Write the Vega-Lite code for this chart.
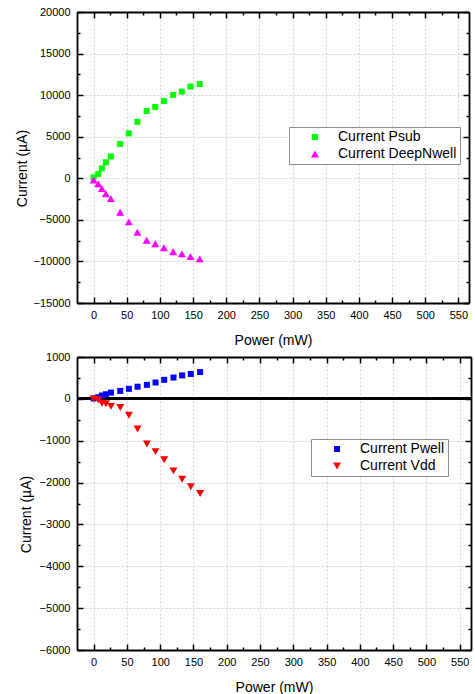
{
  "$schema": "https://vega.github.io/schema/vega-lite/v6.json",
  "padding": {"left": 15, "top": 6, "right": 1, "bottom": 0},
  "background": "white",
  "config": {
    "view": {"stroke": null},
    "font": "Liberation Sans",
    "axis": {
      "labelFont": "Liberation Sans", "titleFont": "Liberation Sans",
      "labelColor": "#000", "titleColor": "#000", "titleFontWeight": "normal",
      "labelFontSize": 11, "titleFontSize": 14,
      "domainColor": "#000", "domainWidth": 1.8,
      "tickColor": "#000", "tickWidth": 1.5,
      "gridColor": "#c8c8c8", "gridDash": [2, 2], "gridWidth": 0.8,
      "labelFlush": false, "labelOverlap": false, "format": "d"
    },
    "legend": {
      "labelFont": "Liberation Sans", "labelFontSize": 14, "labelColor": "#000",
      "symbolSize": 36, "strokeColor": "#8c8c8c", "fillColor": "#ffffff",
      "padding": 3, "rowPadding": 3, "symbolOffset": 16, "labelOffset": 16,
      "symbolStrokeWidth": 0, "title": null
    }
  },
  "datasets": {
    "top": [
      {"power": 0, "current": 100, "series": "Current Psub"},
      {"power": 7, "current": 520, "series": "Current Psub"},
      {"power": 12.5, "current": 1200, "series": "Current Psub"},
      {"power": 18.5, "current": 1930, "series": "Current Psub"},
      {"power": 26, "current": 2620, "series": "Current Psub"},
      {"power": 40, "current": 4120, "series": "Current Psub"},
      {"power": 53, "current": 5400, "series": "Current Psub"},
      {"power": 66, "current": 6780, "series": "Current Psub"},
      {"power": 80, "current": 8080, "series": "Current Psub"},
      {"power": 93, "current": 8580, "series": "Current Psub"},
      {"power": 106, "current": 9280, "series": "Current Psub"},
      {"power": 120, "current": 10030, "series": "Current Psub"},
      {"power": 133, "current": 10420, "series": "Current Psub"},
      {"power": 146, "current": 11030, "series": "Current Psub"},
      {"power": 160, "current": 11330, "series": "Current Psub"},
      {"power": 0, "current": -220, "series": "Current DeepNwell"},
      {"power": 7, "current": -650, "series": "Current DeepNwell"},
      {"power": 12.5, "current": -1230, "series": "Current DeepNwell"},
      {"power": 18.5, "current": -1860, "series": "Current DeepNwell"},
      {"power": 26, "current": -2450, "series": "Current DeepNwell"},
      {"power": 40, "current": -4090, "series": "Current DeepNwell"},
      {"power": 53, "current": -5240, "series": "Current DeepNwell"},
      {"power": 66, "current": -6500, "series": "Current DeepNwell"},
      {"power": 80, "current": -7450, "series": "Current DeepNwell"},
      {"power": 93, "current": -7870, "series": "Current DeepNwell"},
      {"power": 106, "current": -8350, "series": "Current DeepNwell"},
      {"power": 120, "current": -8830, "series": "Current DeepNwell"},
      {"power": 133, "current": -9090, "series": "Current DeepNwell"},
      {"power": 146, "current": -9400, "series": "Current DeepNwell"},
      {"power": 160, "current": -9690, "series": "Current DeepNwell"}
    ],
    "bottom": [
      {"power": 0, "current": 10, "series": "Current Pwell"},
      {"power": 7, "current": 40, "series": "Current Pwell"},
      {"power": 12.5, "current": 80, "series": "Current Pwell"},
      {"power": 18.5, "current": 110, "series": "Current Pwell"},
      {"power": 26, "current": 150, "series": "Current Pwell"},
      {"power": 40, "current": 190, "series": "Current Pwell"},
      {"power": 53, "current": 240, "series": "Current Pwell"},
      {"power": 66, "current": 290, "series": "Current Pwell"},
      {"power": 80, "current": 335, "series": "Current Pwell"},
      {"power": 93, "current": 390, "series": "Current Pwell"},
      {"power": 106, "current": 455, "series": "Current Pwell"},
      {"power": 120, "current": 510, "series": "Current Pwell"},
      {"power": 133, "current": 560, "series": "Current Pwell"},
      {"power": 146, "current": 595, "series": "Current Pwell"},
      {"power": 160, "current": 640, "series": "Current Pwell"},
      {"power": 0, "current": 0, "series": "Current Vdd"},
      {"power": 7, "current": -20, "series": "Current Vdd"},
      {"power": 12.5, "current": -105, "series": "Current Vdd"},
      {"power": 18.5, "current": -115, "series": "Current Vdd"},
      {"power": 26, "current": -180, "series": "Current Vdd"},
      {"power": 40, "current": -205, "series": "Current Vdd"},
      {"power": 53, "current": -390, "series": "Current Vdd"},
      {"power": 66, "current": -720, "series": "Current Vdd"},
      {"power": 80, "current": -1080, "series": "Current Vdd"},
      {"power": 93, "current": -1260, "series": "Current Vdd"},
      {"power": 106, "current": -1455, "series": "Current Vdd"},
      {"power": 120, "current": -1720, "series": "Current Vdd"},
      {"power": 133, "current": -1920, "series": "Current Vdd"},
      {"power": 146, "current": -2100, "series": "Current Vdd"},
      {"power": 160, "current": -2260, "series": "Current Vdd"}
    ]
  },
  "bounds": "flush",
  "spacing": 54,
  "resolve": {"scale": {"color": "independent", "shape": "independent", "size": "independent"}},
  "vconcat": [
    {
      "width": 392, "height": 291,
      "data": {"name": "top"},
      "resolve": {"axis": {"x": "independent", "y": "independent"}},
      "layer": [
        {
          "mark": {"type": "point", "filled": true, "opacity": 1, "strokeWidth": 0},
          "encoding": {
            "x": {"field": "power", "type": "quantitative",
              "scale": {"domain": [-25, 566], "nice": false, "zero": false},
              "axis": {"orient": "bottom", "title": "Power (mW)", "values": [0, 50, 100, 150, 200, 250, 300, 350, 400, 450, 500, 550],
                "tickSize": -6, "labelPadding": 12, "titlePadding": 13, "grid": true}},
            "y": {"field": "current", "type": "quantitative",
              "scale": {"domain": [-15000, 20000], "nice": false, "zero": false},
              "axis": {"orient": "left", "title": "Current (µA)", "values": [-15000, -10000, -5000, 0, 5000, 10000, 15000, 20000],
                "tickSize": -6, "labelPadding": 13, "titlePadding": 3, "grid": true, "titleY": 156}},
            "color": {"field": "series", "type": "nominal",
              "scale": {"domain": ["Current Psub", "Current DeepNwell"], "range": ["#00ff00", "#ff00ff"]},
              "legend": {"orient": "none", "legendX": 212, "legendY": 115}},
            "shape": {"field": "series", "type": "nominal",
              "scale": {"domain": ["Current Psub", "Current DeepNwell"], "range": ["square", "triangle-up"]},
              "legend": {"orient": "none", "legendX": 212, "legendY": 115}},
            "size": {"field": "series", "type": "nominal",
              "scale": {"domain": ["Current Psub", "Current DeepNwell"], "range": [36, 64]}, "legend": null}
          }
        },
        {
          "mark": {"type": "point", "opacity": 0},
          "encoding": {
            "x": {"field": "power", "type": "quantitative",
              "scale": {"domain": [-25, 566], "nice": false, "zero": false},
              "axis": {"orient": "bottom", "title": null, "values": [25, 75, 125, 175, 225, 275, 325, 375, 425, 475, 525],
                "tickSize": -3, "labels": false, "domain": false, "grid": false}},
            "y": {"field": "current", "type": "quantitative",
              "scale": {"domain": [-15000, 20000], "nice": false, "zero": false},
              "axis": {"orient": "left", "title": null, "values": [-12500, -7500, -2500, 2500, 7500, 12500, 17500],
                "tickSize": -3, "labels": false, "domain": false, "grid": false}}
          }
        },
        {
          "mark": {"type": "point", "opacity": 0},
          "encoding": {
            "x": {"field": "power", "type": "quantitative",
              "scale": {"domain": [-25, 566], "nice": false, "zero": false},
              "axis": {"orient": "top", "title": null, "values": [0, 50, 100, 150, 200, 250, 300, 350, 400, 450, 500, 550],
                "tickSize": -6, "labels": false, "grid": false}},
            "y": {"field": "current", "type": "quantitative",
              "scale": {"domain": [-15000, 20000], "nice": false, "zero": false},
              "axis": {"orient": "right", "title": null, "values": [-15000, -10000, -5000, 0, 5000, 10000, 15000, 20000],
                "tickSize": -6, "labels": false, "grid": false}}
          }
        },
        {
          "mark": {"type": "point", "opacity": 0},
          "encoding": {
            "x": {"field": "power", "type": "quantitative",
              "scale": {"domain": [-25, 566], "nice": false, "zero": false},
              "axis": {"orient": "top", "title": null, "values": [25, 75, 125, 175, 225, 275, 325, 375, 425, 475, 525],
                "tickSize": -3, "labels": false, "domain": false, "grid": false}},
            "y": {"field": "current", "type": "quantitative",
              "scale": {"domain": [-15000, 20000], "nice": false, "zero": false},
              "axis": {"orient": "right", "title": null, "values": [-12500, -7500, -2500, 2500, 7500, 12500, 17500],
                "tickSize": -3, "labels": false, "domain": false, "grid": false}}
          }
        }
      ]
    },
    {
      "width": 394, "height": 293,
      "data": {"name": "bottom"},
      "resolve": {"axis": {"x": "independent", "y": "independent"}},
      "layer": [
        {
          "mark": {"type": "rule", "color": "#000", "strokeWidth": 2},
          "encoding": {"y": {"datum": 0, "type": "quantitative", "scale": {"domain": [-6000, 1000], "nice": false, "zero": false}, "axis": null}}
        },
        {
          "mark": {"type": "point", "filled": true, "opacity": 1, "strokeWidth": 0},
          "encoding": {
            "x": {"field": "power", "type": "quantitative",
              "scale": {"domain": [-25, 567], "nice": false, "zero": false},
              "axis": {"orient": "bottom", "title": "Power (mW)", "values": [0, 50, 100, 150, 200, 250, 300, 350, 400, 450, 500, 550],
                "tickSize": -6, "labelPadding": 12, "titlePadding": 13, "grid": true}},
            "y": {"field": "current", "type": "quantitative",
              "scale": {"domain": [-6000, 1000], "nice": false, "zero": false},
              "axis": {"orient": "left", "title": "Current (µA)", "values": [-6000, -5000, -4000, -3000, -2000, -1000, 0, 1000],
                "tickSize": -6, "labelPadding": 13, "titlePadding": 6, "grid": true, "titleY": 157}},
            "color": {"field": "series", "type": "nominal",
              "scale": {"domain": ["Current Pwell", "Current Vdd"], "range": ["#0000ff", "#ff0000"]},
              "legend": {"orient": "none", "legendX": 234, "legendY": 82}},
            "shape": {"field": "series", "type": "nominal",
              "scale": {"domain": ["Current Pwell", "Current Vdd"], "range": ["square", "triangle-down"]},
              "legend": {"orient": "none", "legendX": 234, "legendY": 82}},
            "size": {"field": "series", "type": "nominal",
              "scale": {"domain": ["Current Pwell", "Current Vdd"], "range": [36, 64]}, "legend": null}
          }
        },
        {
          "mark": {"type": "point", "opacity": 0},
          "encoding": {
            "x": {"field": "power", "type": "quantitative",
              "scale": {"domain": [-25, 567], "nice": false, "zero": false},
              "axis": {"orient": "bottom", "title": null, "values": [25, 75, 125, 175, 225, 275, 325, 375, 425, 475, 525],
                "tickSize": -3, "labels": false, "domain": false, "grid": false}},
            "y": {"field": "current", "type": "quantitative",
              "scale": {"domain": [-6000, 1000], "nice": false, "zero": false},
              "axis": {"orient": "left", "title": null, "values": [-5500, -4500, -3500, -2500, -1500, -500, 500],
                "tickSize": -3, "labels": false, "domain": false, "grid": false}}
          }
        },
        {
          "mark": {"type": "point", "opacity": 0},
          "encoding": {
            "x": {"field": "power", "type": "quantitative",
              "scale": {"domain": [-25, 567], "nice": false, "zero": false},
              "axis": {"orient": "top", "title": null, "values": [0, 50, 100, 150, 200, 250, 300, 350, 400, 450, 500, 550],
                "tickSize": -6, "labels": false, "grid": false}},
            "y": {"field": "current", "type": "quantitative",
              "scale": {"domain": [-6000, 1000], "nice": false, "zero": false},
              "axis": {"orient": "right", "title": null, "values": [-6000, -5000, -4000, -3000, -2000, -1000, 0, 1000],
                "tickSize": -6, "labels": false, "grid": false}}
          }
        },
        {
          "mark": {"type": "point", "opacity": 0},
          "encoding": {
            "x": {"field": "power", "type": "quantitative",
              "scale": {"domain": [-25, 567], "nice": false, "zero": false},
              "axis": {"orient": "top", "title": null, "values": [25, 75, 125, 175, 225, 275, 325, 375, 425, 475, 525],
                "tickSize": -3, "labels": false, "domain": false, "grid": false}},
            "y": {"field": "current", "type": "quantitative",
              "scale": {"domain": [-6000, 1000], "nice": false, "zero": false},
              "axis": {"orient": "right", "title": null, "values": [-5500, -4500, -3500, -2500, -1500, -500, 500],
                "tickSize": -3, "labels": false, "domain": false, "grid": false}}
          }
        }
      ]
    }
  ]
}
